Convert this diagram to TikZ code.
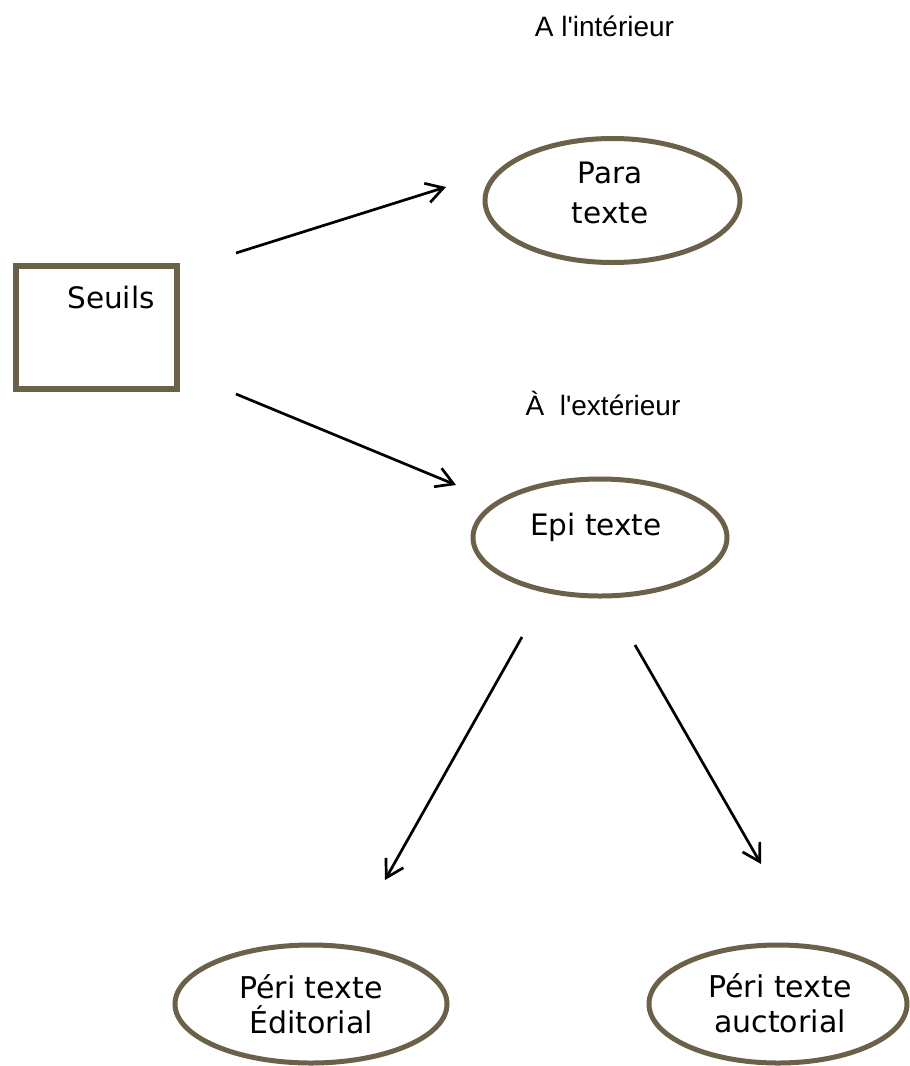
\documentclass[tikz,border=0pt]{standalone}
\usepackage{fontspec}
\setmainfont{DejaVu Sans}
\newfontfamily\labelfont{Liberation Sans}
\usepackage{xcolor}
\usepackage{tikz}
\usetikzlibrary{shapes.geometric,arrows.meta}
\definecolor{seuilbrown}{RGB}{107,96,72}

\begin{document}
\begin{tikzpicture}[x=1pt,y=-1pt]
		\tikzset{seuilbox/.style={draw=seuilbrown,line width=6pt,minimum width=161pt,minimum height=123pt,inner sep=0pt},
			oval/.style={ellipse,draw=seuilbrown,line width=5pt,inner sep=0pt},
			ovaltext/.style={font=\fontsize{29.5}{40}\selectfont,align=center,inner sep=0pt},
			peritext/.style={font=\fontsize{30}{35}\selectfont,align=center,inner sep=0pt},
			sidelabel/.style={font=\labelfont\fontsize{28}{33}\selectfont,inner sep=0pt,anchor=base},
			link/.style={line width=2.7pt,-{Straight Barb[length=17pt,width=20pt]}}};
		\useasboundingbox (0,0) rectangle (910,1066);
		
		\node[seuilbox] (seuils) at (96.5,327.5) {};
		\node[ovaltext,anchor=base] (seuilstxt) at (111,308) {Seuils};
		
		\node[oval,minimum width=255pt,minimum height=124pt] (para) at (612.5,200.5) {};
		\node[ovaltext] (paratxt) at (610,192.5) {Para\\texte};
		
		\node[oval,minimum width=254pt,minimum height=117pt] (epi) at (600,537.5) {};
		\node[ovaltext,anchor=base] (epitxt) at (596,535) {Epi texte};
		
		\node[oval,minimum width=272pt,minimum height=118pt] (editorial) at (311,1004) {};
		\node[peritext] (editorialtxt) at (311,1004.5) {Péri texte\\Éditorial};
		
		\node[oval,minimum width=258pt,minimum height=118pt] (auctorial) at (778,1004) {};
		\node[peritext] (auctorialtxt) at (780,1003.5) {Péri texte\\auctorial};
		
		\node[sidelabel] (interieur) at (604.5,36) {A l\textquotesingle intérieur};
		\node[sidelabel] (exterieur) at (603,415) {À\ \ l\textquotesingle extérieur};
		
		\coordinate (toparastart) at (236,253);
		\coordinate (toparaend) at (446,187);
		\coordinate (toepistart) at (236,394);
		\coordinate (toepiend) at (456,485);
		\coordinate (toeditstart) at (522,637);
		\coordinate (toeditend) at (385,880);
		\coordinate (toauctstart) at (635,645);
		\coordinate (toauctend) at (761,864);
		
		\draw[link] (toparastart) -- (toparaend);
		\draw[link] (toepistart) -- (toepiend);
		\draw[link] (toeditstart) -- (toeditend);
		\draw[link] (toauctstart) -- (toauctend);
	\end{tikzpicture}
\end{document}
